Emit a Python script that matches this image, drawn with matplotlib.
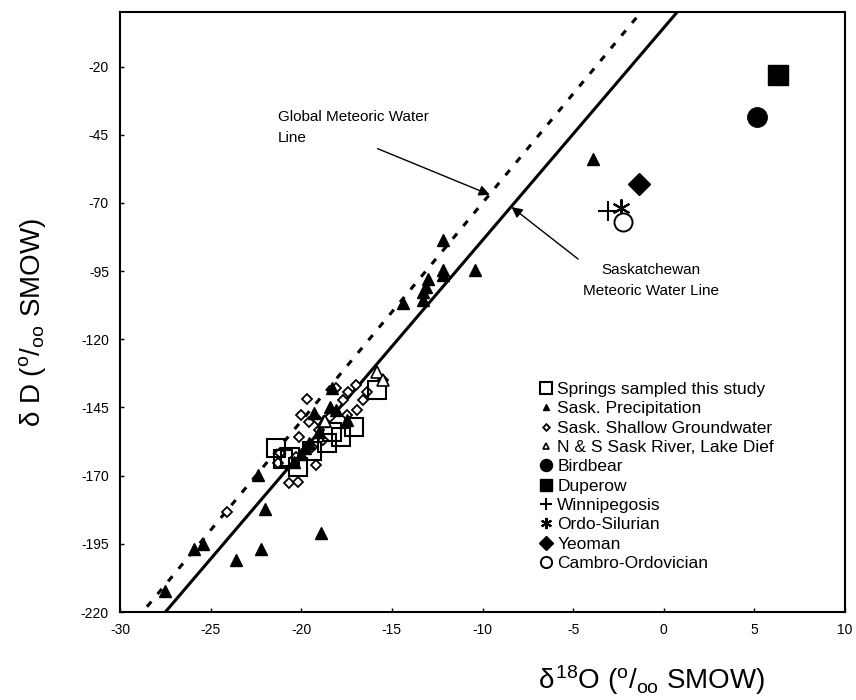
import matplotlib
matplotlib.use("Agg")
import matplotlib.pyplot as plt
import numpy as np

plt.rcParams["font.family"] = ["Liberation Sans", "DejaVu Sans"]
plt.rcParams["axes.unicode_minus"] = False
plt.rcParams["mathtext.fontset"] = "custom"
plt.rcParams["mathtext.rm"] = "Liberation Sans"
plt.rcParams["mathtext.it"] = "Liberation Sans"

# ---------------- data ----------------
springs_x = [-15.8, -17.1, -17.8, -18.6, -21.4, -21.0, -20.2, -20.6, -19.4, -18.3]
springs_y = [-138.6, -152.0, -156.0, -158.0, -160.0, -164.0, -167.0, -163.0, -161.0, -154.0]

precip_x = [-3.9, -12.2, -12.2, -12.2, -10.4, -13.0, -13.1, -13.3, -14.4, -13.3,
            -22.4, -22.0, -18.9, -22.2, -23.6, -25.4, -25.9, -27.5,
            -19.3, -18.8, -19.0, -19.6, -20.0, -18.4, -20.4, -19.8, -18.1, -17.5, -18.3]
precip_y = [-54.0, -83.6, -94.6, -96.4, -94.6, -98.0, -101.0, -102.7, -106.7, -105.6,
            -169.8, -182.3, -191.0, -197.0, -201.0, -195.0, -197.0, -212.3,
            -147.0, -150.0, -154.0, -158.0, -162.0, -145.0, -165.0, -160.0, -146.0, -149.6, -138.0]

shallow_x = [-19.7, -20.0, -20.7, -20.2, -19.2, -24.1, -18.1, -17.4, -17.0, -16.6,
             -16.4, -16.9, -17.7, -15.5, -19.6, -19.1, -18.8, -20.1, -21.2, -21.3,
             -19.4, -19.0, -18.4, -17.5, -20.3]
shallow_y = [-142.0, -147.8, -172.7, -172.4, -166.0, -183.4, -137.9, -139.3, -136.8, -142.3,
             -139.3, -146.0, -142.3, -135.0, -150.3, -149.6, -157.0, -155.8, -161.7, -165.4,
             -159.6, -153.3, -148.5, -147.8, -163.2]

river_x = [-15.8, -15.5, -18.7]
river_y = [-132.0, -135.0, -150.0]

birdbear = (5.15, -38.5)
duperow = (6.3, -23.0)
winnipegosis = (-3.1, -73.0)
ordo_silurian = (-2.35, -72.0)
yeoman = (-1.37, -63.0)
cambro_ordovician = (-2.25, -77.0)

# meteoric water lines: dD = slope * d18O + intercept
gmwl_slope, gmwl_int = 8.0, 10.0
smwl_slope, smwl_int = 7.79, -5.8
line_x = [-32, 12]

# ---------------- figure ----------------
fig = plt.figure(figsize=(8.56, 7.0), dpi=100)
ax = fig.add_axes([120 / 856, 1 - 612 / 700, 725 / 856, 600 / 700])

lx = np.array(line_x)
ax.plot(lx, gmwl_slope * lx + gmwl_int, color="black", lw=2.2,
        linestyle=(0, (2.2, 3.2)), zorder=2)
ax.plot(lx, smwl_slope * lx + smwl_int, color="black", lw=2.2, zorder=2)

ax.plot(shallow_x, shallow_y, linestyle="none", marker="D", markersize=5.5,
        markerfacecolor="white", markeredgecolor="black", markeredgewidth=1.3,
        label="Sask. Shallow Groundwater", zorder=3)
ax.plot(springs_x, springs_y, linestyle="none", marker="s", markersize=13,
        markerfacecolor="none", markeredgecolor="black", markeredgewidth=1.5,
        label="Springs sampled this study", zorder=4)
ax.plot(precip_x, precip_y, linestyle="none", marker="^", markersize=8,
        color="black", label="Sask. Precipitation", zorder=4)
ax.plot(river_x, river_y, linestyle="none", marker="^", markersize=8,
        markerfacecolor="white", markeredgecolor="black", markeredgewidth=1.2,
        label="N & S Sask River, Lake Dief", zorder=4)
ax.plot(*birdbear, linestyle="none", marker="o", markersize=14, color="black",
        label="Birdbear")
ax.plot(*duperow, linestyle="none", marker="s", markersize=14, color="black",
        label="Duperow")
ax.plot(*winnipegosis, linestyle="none", marker="+", markersize=14,
        markeredgewidth=1.5, color="black", label="Winnipegosis")
ax.plot(*ordo_silurian, linestyle="none", marker=(6, 2, 0), markersize=13,
        markeredgewidth=1.5, color="black", label="Ordo-Silurian")
ax.plot(*yeoman, linestyle="none", marker="D", markersize=11, color="black",
        label="Yeoman")
ax.plot(*cambro_ordovician, linestyle="none", marker="o", markersize=13,
        markerfacecolor="white", markeredgecolor="black", markeredgewidth=1.4,
        label="Cambro-Ordovician", zorder=3)

# annotations
ax.annotate("Global Meteoric Water\nLine", xy=(-9.6, -67.0), xytext=(-21.3, -36.0),
            fontsize=11, ha="left", va="top", linespacing=1.6,
            arrowprops=dict(arrowstyle="-|>", color="black", lw=1.0,
                            shrinkA=2, shrinkB=0, mutation_scale=16,
                            relpos=(0.6, 0.0)))
ax.annotate("Saskatchewan\nMeteoric Water Line", xy=(-8.4, -71.5), xytext=(-0.7, -92.0),
            fontsize=11, ha="center", va="top", linespacing=1.6,
            arrowprops=dict(arrowstyle="-|>", color="black", lw=1.0,
                            shrinkA=2, shrinkB=0, mutation_scale=16,
                            relpos=(0.0, 1.0)))

ax.set_xlim(-30, 10)
ax.set_ylim(-220, 0)
ax.set_xticks([-30, -25, -20, -15, -10, -5, 0, 5, 10])
ax.set_yticks([-20, -45, -70, -95, -120, -145, -170, -195, -220])
ax.tick_params(direction="in", length=3, width=1, labelsize=10, pad=8)
for s in ax.spines.values():
    s.set_linewidth(1.5)

order = ["Springs sampled this study", "Sask. Precipitation", "Sask. Shallow Groundwater",
         "N & S Sask River, Lake Dief", "Birdbear", "Duperow", "Winnipegosis",
         "Ordo-Silurian", "Yeoman", "Cambro-Ordovician"]
handles, labels = ax.get_legend_handles_labels()
hmap = dict(zip(labels, handles))
leg = ax.legend([hmap[k] for k in order], order, loc="upper left",
                bbox_to_anchor=((540 - 120) / 725, (612 - 382) / 600),
                frameon=False, fontsize=12.5, handlelength=0.7, handletextpad=0.3,
                labelspacing=0.24, borderpad=0, borderaxespad=0, markerscale=0.62)

fig.text(33 / 856, 1 - 322 / 700, r"$\delta$ D ($^{o}/_{oo}$ SMOW)", rotation=90,
         ha="center", va="center", fontsize=20)
fig.text(652 / 856, 1 - 680 / 700, r"$\delta^{18}$O ($^{o}/_{oo}$ SMOW)",
         ha="center", va="center", fontsize=20)

fig.savefig("out.png", dpi=100)
